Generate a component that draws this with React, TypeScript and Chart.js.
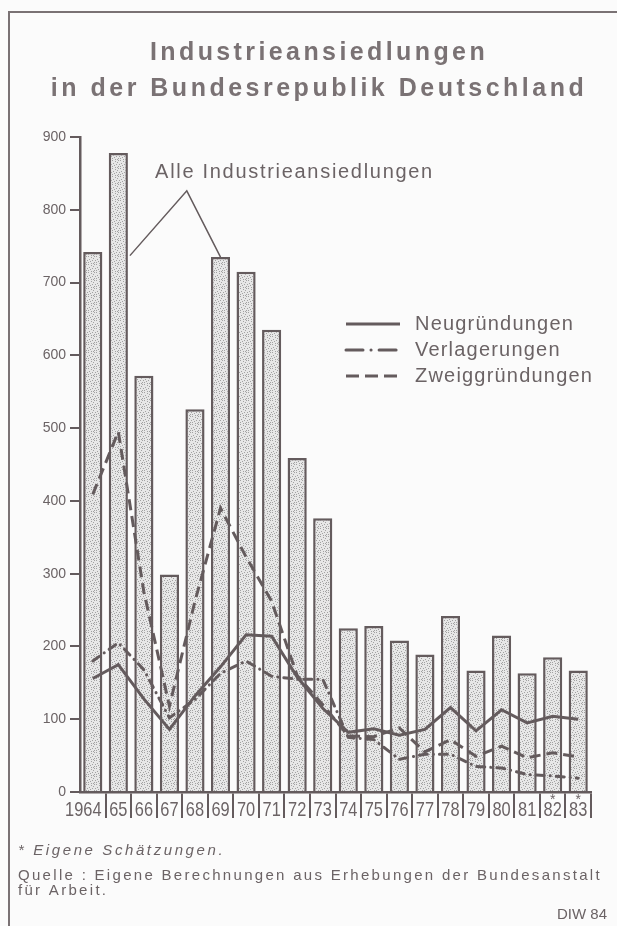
import React, { useEffect, useRef } from "react";
import { Chart, registerables } from "chart.js";

Chart.register(...registerables);

// ---------- data ----------
const years = ["1964", "65", "66", "67", "68", "69", "70", "71", "72", "73", "74", "75", "76", "77", "78", "79", "80", "81", "82", "83"];
const estimatedYears = ["82", "83"];
const alleIndustrieansiedlungen = [742, 878, 572, 299, 526, 735, 715, 635, 459, 376, 225, 228, 208, 189, 242, 167, 215, 163, 185, 167];
const neugruendungen = [156, 175, 128, 86, 132, 172, 216, 214, 158, 115, 82, 87, 78, 86, 116, 84, 113, 95, 104, 100];
const verlagerungen = [180, 205, 168, 102, 127, 163, 180, 159, 155, 155, 75, 72, 45, 52, 52, 35, 33, 24, 22, 19];
const zweiggruendungen = [409, 495, 275, 118, 262, 390, 323, 262, 160, 120, 77, 76, 88, 55, 72, 49, 63, 47, 54, 48];
const yMin = 0;
const yMax = 900;
const yStep = 100;

const titleLines = ["Industrieansiedlungen", "in der Bundesrepublik Deutschland"];
const barLabel = "Alle Industrieansiedlungen";
const legendLabels = ["Neugründungen", "Verlagerungen", "Zweiggründungen"];
const footnote = "* Eigene Schätzungen.";
const sourceLines = ["Quelle : Eigene Berechnungen aus Erhebungen der Bundesanstalt", "für Arbeit."];
const credit = "DIW 84";

// ---------- styles ----------
const BG = "#fbfbfb";
const INK = "#645b5d";
const TEXT = "#6b6365";
const TITLE = "#7a7274";
const SANS = '"Liberation Sans", Arial, sans-serif';

const DASH_DOT = [8, 6, 0.1, 6];
const DASHED = [11, 6];

const STIPPLE_DOTS = [
  [0, 0], [3, 1], [6, 0], [1, 3], [5, 2], [7, 4], [2, 5], [4, 4], [6, 6], [0, 6], [3, 7], [5, 7],
];

function makeStipple(): CanvasPattern | string {
  const c = document.createElement("canvas");
  c.width = 8;
  c.height = 8;
  const g = c.getContext("2d");
  if (!g) return "#d9d9d9";
  g.fillStyle = "#e7e7e7";
  g.fillRect(0, 0, 8, 8);
  g.fillStyle = "#a2a2a2";
  STIPPLE_DOTS.forEach(([x, y]) => g.fillRect(x, y, 1, 1));
  return g.createPattern(c, "repeat") || "#d9d9d9";
}

function spacedText(ctx: CanvasRenderingContext2D, text: string, x: number, y: number, spacing: number) {
  (ctx as any).letterSpacing = spacing + "px";
  ctx.fillText(text, x, y);
  (ctx as any).letterSpacing = "0px";
}

function condensedText(ctx: CanvasRenderingContext2D, text: string, x: number, y: number, sx: number) {
  ctx.save();
  ctx.translate(x, y);
  ctx.scale(sx, 1);
  ctx.fillText(text, 0, 0);
  ctx.restore();
}

const decorPlugin = {
  id: "decor",
  beforeDraw(chart: any) {
    const { ctx, width, height } = chart;
    ctx.save();
    ctx.fillStyle = BG;
    ctx.fillRect(0, 0, width, height);
    ctx.strokeStyle = "#7a7274";
    ctx.lineWidth = 2;
    ctx.beginPath();
    ctx.moveTo(9, height);
    ctx.lineTo(9, 12);
    ctx.lineTo(width, 12);
    ctx.stroke();
    ctx.restore();
  },
  afterDraw(chart: any) {
    const { ctx, chartArea, width } = chart;
    const xs = chart.scales.x;
    const ys = chart.scales.y;
    ctx.save();

    // title
    ctx.fillStyle = TITLE;
    ctx.textAlign = "center";
    ctx.textBaseline = "alphabetic";
    ctx.font = "bold 25px " + SANS;
    spacedText(ctx, titleLines[0], 319, 60, 3.4);
    spacedText(ctx, titleLines[1], 319, 96, 3.5);

    // x-axis category labels (condensed, between separators)
    ctx.fillStyle = TEXT;
    ctx.font = "21px " + SANS;
    ctx.textBaseline = "middle";
    const step = xs.width / years.length;
    years.forEach((yr, i) => {
      const cx = xs.getPixelForValue(i);
      if (i === 0) {
        ctx.textAlign = "right";
        condensedText(ctx, yr, cx + step / 2 - 4, chartArea.bottom + 18, 0.78);
      } else {
        ctx.textAlign = "center";
        condensedText(ctx, yr, cx, chartArea.bottom + 18, 0.78);
      }
    });

    // estimate markers
    ctx.font = "14px " + SANS;
    ctx.textAlign = "center";
    ctx.textBaseline = "middle";
    estimatedYears.forEach((yr) => {
      const idx = years.indexOf(yr);
      if (idx >= 0) ctx.fillText("*", xs.getPixelForValue(idx), chartArea.bottom + 8);
    });

    // bar annotation with leader lines
    const barMeta = chart.getDatasetMeta(0);
    const halfBar = barMeta.data[1] ? barMeta.data[1].width / 2 : 9;
    ctx.fillStyle = TEXT;
    ctx.textAlign = "left";
    ctx.textBaseline = "middle";
    ctx.font = "20px " + SANS;
    spacedText(ctx, barLabel, xs.getPixelForValue(2.44), ys.getPixelForValue(851), 1.7);
    ctx.strokeStyle = INK;
    ctx.lineWidth = 1.5;
    const ax = xs.getPixelForValue(3.68);
    const ay = ys.getPixelForValue(826);
    ctx.beginPath();
    ctx.moveTo(xs.getPixelForValue(1) + halfBar + 2, ys.getPixelForValue(737));
    ctx.lineTo(ax, ay);
    ctx.lineTo(xs.getPixelForValue(5), ys.getPixelForValue(735));
    ctx.stroke();

    // legend
    const caps = ["butt", "round", "butt"];
    legendLabels.forEach((lab, i) => {
      const ly = chartArea.top + 187 + i * 26;
      ctx.strokeStyle = INK;
      ctx.lineWidth = 3;
      ctx.lineCap = caps[i];
      ctx.setLineDash(i === 2 ? [13, 6] : i === 1 ? [17, 8, 0.1, 8] : []);
      ctx.beginPath();
      ctx.moveTo(chartArea.left + 266, ly);
      ctx.lineTo(chartArea.left + 320, ly);
      ctx.stroke();
      ctx.setLineDash([]);
      ctx.lineCap = "butt";
      ctx.fillStyle = TEXT;
      ctx.font = "20px " + SANS;
      ctx.textAlign = "left";
      ctx.textBaseline = "middle";
      spacedText(ctx, lab, chartArea.left + 335, ly, 1.2);
    });

    // footer
    ctx.fillStyle = TEXT;
    ctx.textAlign = "left";
    ctx.textBaseline = "middle";
    ctx.font = "italic 15px " + SANS;
    spacedText(ctx, footnote, 18, 851, 2.6);
    ctx.font = "15px " + SANS;
    spacedText(ctx, sourceLines[0], 18, 876, 2.3);
    spacedText(ctx, sourceLines[1], 18, 891, 2.3);
    ctx.textAlign = "right";
    ctx.font = "15px " + SANS;
    ctx.fillText(credit, width - 10, 915);

    ctx.restore();
  },
};

export default function App() {
  const ref = useRef<HTMLCanvasElement | null>(null);

  useEffect(() => {
    document.body.style.margin = "0";
    document.body.style.background = BG;
    const canvas = ref.current;
    if (!canvas) return;
    const stipple = makeStipple();
    const chart = new Chart(canvas, {
      type: "bar",
      data: {
        labels: years,
        datasets: [
          {
            type: "bar",
            label: barLabel,
            data: alleIndustrieansiedlungen,
            backgroundColor: stipple as any,
            borderColor: INK,
            borderWidth: 2.5,
            barPercentage: 0.75,
            categoryPercentage: 1,
            order: 10,
          },
          {
            type: "line",
            label: legendLabels[0],
            data: neugruendungen,
            borderColor: INK,
            borderWidth: 3,
            pointRadius: 0,
            tension: 0,
            order: 1,
          },
          {
            type: "line",
            label: legendLabels[1],
            data: verlagerungen,
            borderColor: INK,
            borderWidth: 3,
            borderDash: DASH_DOT,
            borderCapStyle: "round",
            pointRadius: 0,
            tension: 0,
            order: 2,
          },
          {
            type: "line",
            label: legendLabels[2],
            data: zweiggruendungen,
            borderColor: INK,
            borderWidth: 3,
            borderDash: DASHED,
            pointRadius: 0,
            tension: 0,
            order: 3,
          },
        ] as any,
      },
      options: {
        responsive: false,
        animation: false,
        layout: { padding: { top: 137, right: 26, bottom: 104, left: 0 } },
        plugins: {
          legend: { display: false },
          title: { display: false },
          tooltip: { enabled: false },
        },
        scales: {
          x: {
            offset: true,
            grid: {
              display: true,
              offset: true,
              drawOnChartArea: false,
              drawTicks: true,
              tickLength: 26,
              lineWidth: 2,
              color: (c: any) => (c.index === 0 ? "rgba(0,0,0,0)" : INK),
            },
            border: { display: true, color: INK, width: 2.5 },
            ticks: {
              display: false,
              autoSkip: false,
              maxRotation: 0,
              minRotation: 0,
            },
            afterFit: (s: any) => {
              s.height = 30;
            },
          },
          y: {
            min: yMin,
            max: yMax,
            grid: {
              display: true,
              drawOnChartArea: false,
              drawTicks: true,
              tickLength: 10,
              lineWidth: 2,
              color: INK,
            },
            border: { display: true, color: INK, width: 2.5 },
            ticks: {
              stepSize: yStep,
              padding: 4,
              color: TEXT,
              font: { family: SANS, size: 14 },
            },
            afterFit: (s: any) => {
              s.width = 80;
            },
          },
        },
      },
      plugins: [decorPlugin as any],
    });
    return () => chart.destroy();
  }, []);

  return (
    <div style={{ width: 617, height: 926, background: BG }}>
      <canvas ref={ref} width={617} height={926} style={{ display: "block", width: 617, height: 926 }} />
    </div>
  );
}
